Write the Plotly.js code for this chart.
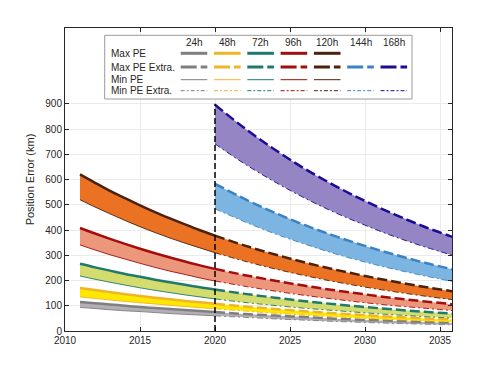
<!DOCTYPE html>
<html><head><meta charset="utf-8">
<script src="https://cdn.plot.ly/plotly-3.0.1.min.js"></script>
<style>html,body{margin:0;padding:0;background:#fff;}</style>
</head><body><div id="chart" style="width:500px;height:373px;"></div>
<script>
// ---- data ----
const horizons = ['24h','48h','72h','96h','120h','144h','168h'];
const histYears = [2011,2012,2013,2014,2015,2016,2017,2018,2019,2020];
const extraYears = [2020,2022,2024,2026,2028,2030,2032,2034,2036];

const maxHist24  = [115,110,105,100,95,91,87,83,79,75];
const minHist24  = [93,89,84,80,77,73,69,66,63,60];
const maxHist48  = [170,162,154,146,139,132,126,119,114,108];
const minHist48  = [135,129,123,117,112,107,102,97,92,88];
const maxHist72  = [266,252,239,226,215,203,193,183,173,164];
const minHist72  = [218,205,193,182,171,161,152,143,135,127];
const maxHist96  = [408,386,365,345,326,308,291,275,260,246];
const minHist96  = [341,321,302,285,268,252,237,224,210,198];
const maxHist120 = [620,587,555,526,498,471,446,422,399,378];
const minHist120 = [520,491,464,438,413,390,368,348,329,310];

const maxExt24  = [75,67,61,55,49,44,40,36,32];
const minExt24  = [60,54,48,43,38,34,30,27,24];
const maxExt48  = [108,97,87,78,70,63,56,50,45];
const minExt48  = [88,79,70,63,56,50,45,40,36];
const maxExt72  = [164,147,132,118,106,95,85,76,68];
const minExt72  = [127,113,101,90,81,72,64,57,51];
const maxExt96  = [246,221,199,179,161,145,130,117,105];
const minExt96  = [198,177,158,141,126,112,100,90,80];
const maxExt120 = [378,338,303,271,243,218,195,174,156];
const minExt120 = [310,276,246,219,195,174,155,138,123];
const maxExt144 = [583,522,468,419,376,337,302,270,242];
const minExt144 = [484,432,385,344,306,273,244,218,194];
const maxExt168 = [896,802,718,642,575,515,461,412,369];
const minExt168 = [741,661,590,526,469,419,373,333,297];

const splitYear = [2020];
const splitRange = [0, 900];
const xTicks = [2010,2015,2020,2025,2030,2035];
const yTicks = [0,100,200,300,400,500,600,700,800,900];
const rowLabels = ['Max PE','Max PE Extra.','Min PE','Min PE Extra.'];

// ---- styles ----
const lineColors = ['#7f7f7f','#f0b428','#1f7a6c','#a30d0d','#4b2110','#3a82c2','#1c0c94'];
const fillColors = ['#b4aeb8','#ffe800','#d5dc6e','#ec967b','#ec7223','#7cb5e2','#9585c5'];
const maxHist = [maxHist24,maxHist48,maxHist72,maxHist96,maxHist120];
const minHist = [minHist24,minHist48,minHist72,minHist96,minHist120];
const maxExt = [maxExt24,maxExt48,maxExt72,maxExt96,maxExt120,maxExt144,maxExt168];
const minExt = [minExt24,minExt48,minExt72,minExt96,minExt120,minExt144,minExt168];

const DASH_MAX = '10px,4px';
const DASH_MIN = '6px,3px,2px,3px';
const traces = [];
for (let i = 0; i < maxHist.length; i++) {
  traces.push({x: histYears, y: minHist[i], mode:'lines', line:{color:lineColors[i], width:0.9, shape:'spline'}, showlegend:false, hoverinfo:'skip'});
  traces.push({x: histYears, y: maxHist[i], mode:'lines', fill:'tonexty', fillcolor:fillColors[i], line:{color:lineColors[i], width:2.5, shape:'spline'}, showlegend:false, hoverinfo:'skip'});
}
for (let i = 0; i < maxExt.length; i++) {
  traces.push({x: extraYears, y: minExt[i], mode:'lines', line:{color:lineColors[i], width:0.9, dash:DASH_MIN, shape:'spline'}, showlegend:false, hoverinfo:'skip'});
  traces.push({x: extraYears, y: maxExt[i], mode:'lines', fill:'tonexty', fillcolor:fillColors[i], line:{color:lineColors[i], width:2.5, dash:DASH_MAX, shape:'spline'}, showlegend:false, hoverinfo:'skip'});
}

// ---- legend table (paper coords from plot-area pixels) ----
const L = 65, T = 28, W = 387, H = 303;
const px = x => (x - L) / W;
const py = y => (T + H - y) / H;
const shapes = [];
const annotations = [];
const TXT = '#262626';
shapes.push({type:'line', xref:'x', yref:'y', x0:splitYear[0], x1:splitYear[0], y0:splitRange[0], y1:splitRange[1], line:{color:'#000', width:1.5, dash:'6px,3px'}, layer:'above'});
shapes.push({type:'rect', xref:'paper', yref:'paper', x0:px(104.7), x1:px(412), y0:py(99), y1:py(35.3), fillcolor:'#fff', line:{color:'#9a9a9a', width:1}, layer:'above'});
const rowY = [53.3, 67, 79.7, 90.7];
rowLabels.forEach((t, r) => annotations.push({xref:'paper', yref:'paper', x:px(109), y:py(rowY[r]), xanchor:'left', yanchor:'middle', text:t, showarrow:false, font:{size:10, color:TXT}}));
horizons.forEach((h, i) => {
  const cx = 194 + i * 33.3;
  annotations.push({xref:'paper', yref:'paper', x:px(cx), y:py(42.3), xanchor:'center', yanchor:'middle', text:h, showarrow:false, font:{size:10, color:TXT}});
  const hasHist = i < maxHist.length;
  const spec = [
    hasHist ? {w:3, dash:'solid'} : null,
    {w:3, dash:'16px,4px'},
    hasHist ? {w:1, dash:'solid'} : null,
    {w:1, dash:'4px,2px,2px,2px'}
  ];
  spec.forEach((s, r) => {
    if (!s) return;
    shapes.push({type:'line', xref:'paper', yref:'paper', x0:px(cx-13.3), x1:px(cx+13.3), y0:py(rowY[r]), y1:py(rowY[r]), line:{color:lineColors[i], width:s.w, dash:s.dash}, layer:'above'});
  });
});

const axisCommon = {
  showline:true, linecolor:TXT, linewidth:1, mirror:'ticks', ticks:'inside', ticklen:4, tickcolor:TXT,
  showgrid:true, gridcolor:'#ebebeb', gridwidth:1, zeroline:false,
  tickfont:{size:10, color:TXT, family:'Liberation Sans, Arial, sans-serif'}
};
const layout = {
  width:500, height:373,
  margin:{l:L, r:500-L-W, t:T, b:373-T-H, pad:0},
  paper_bgcolor:'#fff', plot_bgcolor:'#fff',
  font:{family:'Liberation Sans, Arial, sans-serif', color:TXT, size:10},
  showlegend:false,
  xaxis: Object.assign({}, axisCommon, {range:[2010, 2035.8], tickmode:'array', tickvals:xTicks, ticktext:xTicks.map(String)}),
  yaxis: Object.assign({}, axisCommon, {range:[0, 1200], tickmode:'array', tickvals:yTicks, ticktext:yTicks.map(String),
    title:{text:'Position Error (km)', font:{size:11, color:TXT}, standoff:8}}),
  shapes: shapes,
  annotations: annotations
};
Plotly.newPlot('chart', traces, layout, {staticPlot:true, displayModeBar:false});
</script>
</body></html>
